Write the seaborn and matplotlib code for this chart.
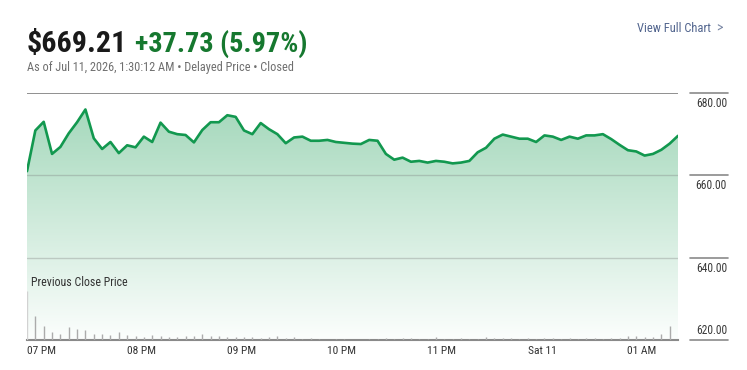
import numpy as np
import pandas as pd
import matplotlib
matplotlib.use("Agg")
import matplotlib.pyplot as plt
import matplotlib.dates as mdates
import matplotlib.transforms as mtransforms
from matplotlib import font_manager as fm
import seaborn as sns

# ---------------- data ----------------
price = [661.0, 670.9, 673.0, 665.2, 666.9, 670.2, 672.9, 676.0, 669.0, 666.4,
         668.1, 665.4, 667.3, 666.8, 669.4, 668.1, 672.8, 670.6, 670.0, 669.8,
         668.0, 671.0, 672.9, 672.9, 674.6, 674.2, 670.9, 670.0, 672.7, 671.2,
         670.0, 667.8, 669.2, 669.4, 668.4, 668.4, 668.6, 668.1, 667.9, 667.7,
         667.6, 668.6, 668.4, 665.2, 663.8, 664.3, 663.3, 663.5, 663.1, 663.5,
         663.3, 662.9, 663.1, 663.5, 665.6, 666.7, 668.9, 669.9, 669.4, 668.9,
         668.9, 668.1, 669.7, 669.4, 668.6, 669.4, 668.9, 669.7, 669.7, 670.0,
         668.8, 667.4, 666.1, 665.8, 664.8, 665.2, 666.2, 667.7, 669.6]
volume = [49, 24, 14, 8, 6, 13, 11, 10, 6, 6,
          5, 8, 5, 4, 3, 5, 4, 3, 3, 4,
          4, 6, 4, 4, 3, 3, 3, 3, 2, 3,
          4, 2, 3, 1, 2, 1, 0, 1, 1, 0,
          0, 1, 1, 2, 1, 2, 2, 1, 1, 3,
          1, 1, 2, 1, 1, 3, 2, 2, 2, 1,
          2, 1, 2, 2, 1, 2, 1, 2, 2, 1,
          2, 2, 4, 4, 3, 3, 6, 14, 0]
start_time = "2026-07-10 18:51:30"
tick_times = ["2026-07-10 19:00", "2026-07-10 20:00", "2026-07-10 21:00",
              "2026-07-10 22:00", "2026-07-10 23:00", "2026-07-11 00:00",
              "2026-07-11 01:00"]
tick_labels = ["07 PM", "08 PM", "09 PM", "10 PM", "11 PM", "Sat 11", "01 AM"]
y_ticks = [680, 660, 640, 620]
y_tick_labels = ["680.00", "660.00", "640.00", "620.00"]
last_price = "$669.21"
change_text = "+37.73 (5.97%)"
subtitle = "As of Jul 11, 2026, 1:30:12 AM \u2022 Delayed Price \u2022 Closed"

times = pd.date_range(start_time, periods=len(price), freq="5min")
df = pd.DataFrame({"time": times, "price": price, "volume": volume})

# ---------------- font choice ----------------
available = {f.name for f in fm.fontManager.ttflist}
family, stretch = "DejaVu Sans", "normal"
for cand in ["Roboto Condensed", "Archivo Narrow", "PT Sans Narrow",
             "Fira Sans Condensed", "IBM Plex Sans Condensed",
             "Barlow Semi Condensed", "Open Sans Condensed"]:
    if cand in available:
        family = cand
        break
else:
    if any(f.name == "Open Sans" and f.stretch == "condensed" for f in fm.fontManager.ttflist):
        family, stretch = "Open Sans", "condensed"

sns.set_theme(style="white")
plt.rcParams["font.family"] = [family, "DejaVu Sans"]
plt.rcParams["font.stretch"] = stretch

W, H = 747, 370
fig = plt.figure(figsize=(W / 100, H / 100), dpi=100)
fig.patch.set_facecolor("white")
renderer = fig.canvas.get_renderer()


def fitted_size(s, target_w, size, weight="normal"):
    t = fig.text(0, 0, s, fontsize=size, fontweight=weight, fontstretch=stretch)
    w = t.get_window_extent(renderer).width
    t.remove()
    return size * target_w / w


ax = fig.add_axes([27 / W, 30 / H, 651 / W, 247 / H])
ax.set_facecolor("none")
ax.set_ylim(620, 680)
x0 = mdates.date2num(times[0])
x1 = mdates.date2num(times[-1])
ax.set_xlim(times[0], times[-1])

# gradient fill under the line
poly = ax.fill_between(df["time"], df["price"], 620, color="none", lw=0)
grad = np.linspace(0, 1, 256).reshape(-1, 1)
top_c = np.array([160, 214, 184]) / 255
bot_c = np.array([252, 254, 253]) / 255
img = top_c[None, None, :] * (1 - grad[:, :, None]) + bot_c[None, None, :] * grad[:, :, None]
im = ax.imshow(img, extent=[x0, x1, 620, 680], origin="upper", aspect="auto", zorder=1)
im.set_clip_path(poly.get_paths()[0], transform=ax.transData)

# grid lines
ax.axhline(680, color="#7d7d7d", lw=1.2, zorder=2)
for v in (660, 640):
    ax.axhline(v, color="#7a7a7a", lw=1.0, alpha=0.33, zorder=2)

sns.lineplot(data=df, x="time", y="price", ax=ax, color="#12984f",
             linewidth=1.9, zorder=4)

# volume bars
axv = ax.twinx()
axv.set_ylim(0, 247)
axv.set_xlim(times[0], times[-1])
bar_colors = ["#d2d2d2"] + ["#ababab"] * (len(volume) - 1)
axv.vlines(df["time"], 0, df["volume"], colors=bar_colors, lw=1.0, zorder=3)
axv.set_yticks([])
for s in axv.spines.values():
    s.set_visible(False)

# axes cosmetics
for s in ["top", "left", "right"]:
    ax.spines[s].set_visible(False)
ax.spines["bottom"].set_color("#8a8a8a")
ax.spines["bottom"].set_linewidth(1.5)
ax.spines["bottom"].set_zorder(5)
ax.set_yticks([])
ax.set_xlabel("")
ax.set_ylabel("")
tick_fs = fitted_size("07 PM", 29, 10)
ax.set_xticks(pd.to_datetime(tick_times))
ax.set_xticklabels(tick_labels, fontsize=tick_fs, color="#333333", fontstretch=stretch)
ax.tick_params(axis="x", length=0, pad=4.0)
axv.tick_params(axis="x", length=0, labelbottom=False)

# right-hand price scale
price_fs = fitted_size("680.00", 31, 10)
trans = mtransforms.blended_transform_factory(fig.transFigure, ax.transData)
for v, lab in zip(y_ticks, y_tick_labels):
    ax.plot([690 / W, 728 / W], [v, v], transform=trans, color="#8a8a8a",
            lw=1.2, clip_on=False)
    off = -2.55 if v != 620 else 2.3
    ax.text(727 / W, v + off, lab, transform=trans, ha="right", va="center",
            fontsize=price_fs, color="#3a3a3a", clip_on=False, fontstretch=stretch)

# texts
fig.text(31 / W, 1 - 283 / H, "Previous Close Price", ha="left", va="center",
         fontsize=fitted_size("Previous Close Price", 96, 10), color="#333333",
         fontstretch=stretch)
fig.text(27 / W, 1 - 52 / H, last_price, ha="left", va="baseline",
         fontsize=fitted_size(last_price, 100, 25, "bold"), fontweight="bold",
         color="#1a1a1a", fontstretch=stretch)
fig.text(135 / W, 1 - 52 / H, change_text, ha="left", va="baseline",
         fontsize=fitted_size(change_text, 173, 25, "bold"), fontweight="bold",
         color="#16782f", fontstretch=stretch)
fig.text(27 / W, 1 - 67 / H, subtitle, ha="left", va="center",
         fontsize=fitted_size(subtitle, 265, 10), color="#6f6f6f", fontstretch=stretch)
fig.text(711 / W, 1 - 28 / H, "View Full Chart", ha="right", va="center",
         fontsize=fitted_size("View Full Chart", 74, 10), color="#52658e",
         fontstretch=stretch)
fig.text(716 / W, 1 - 28 / H, ">", ha="left", va="center",
         fontsize=10, color="#7d8aa6", fontstretch=stretch)

fig.savefig("out.png", dpi=100)
